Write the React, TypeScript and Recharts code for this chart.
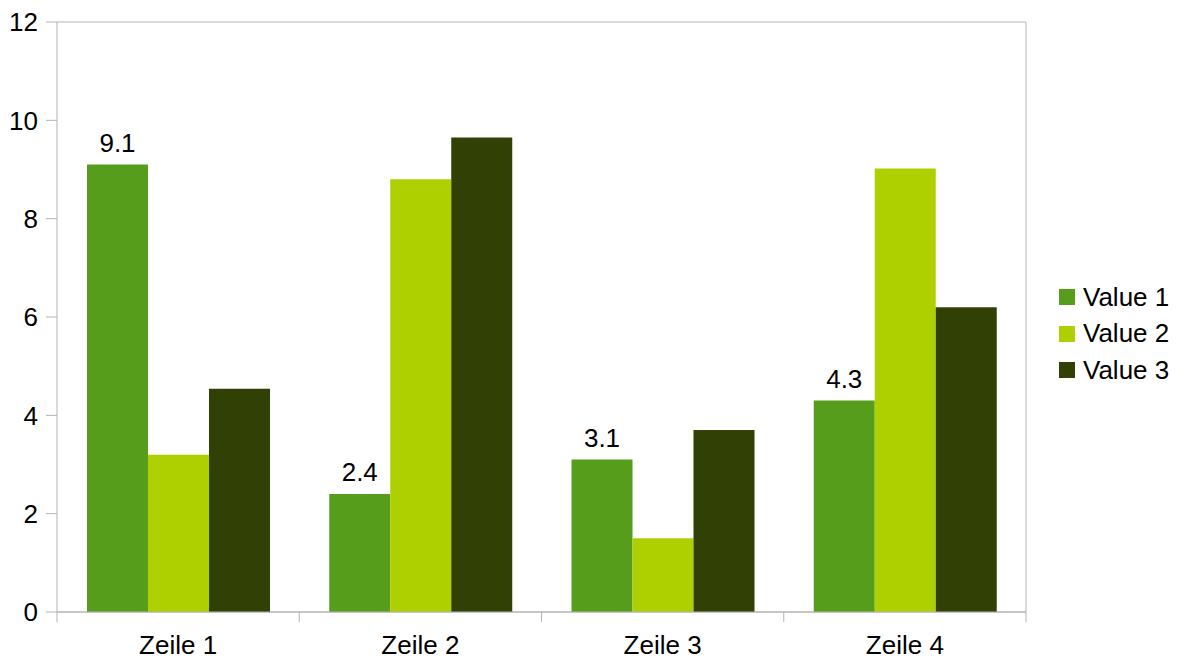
import React from 'react';
import { BarChart, Bar, XAxis, YAxis, CartesianGrid, LabelList } from 'recharts';

const categories = ['Zeile 1', 'Zeile 2', 'Zeile 3', 'Zeile 4'];
const value1 = [9.1, 2.4, 3.1, 4.3];
const value2 = [3.2, 8.8, 1.5, 9.02];
const value3 = [4.54, 9.65, 3.7, 6.2];
const seriesNames = ['Value 1', 'Value 2', 'Value 3'];
const seriesColors = ['#579d1c', '#aecf00', '#314004'];
const yTicks = [0, 2, 4, 6, 8, 10, 12];

const data = categories.map((c, i) => ({ name: c, v1: value1[i], v2: value2[i], v3: value3[i] }));

const FONT = '"Liberation Sans", Arial, sans-serif';
const FS = 26;
const GRID = '#b3b3b3';
const TICK_SIZE = 10;
const TICK_MARGIN = 14;

const CategoryTick = (props: any) => {
  const { x, y, payload, index, visibleTicksCount } = props;
  const half = payload && payload.offset ? payload.offset : 0;
  const axisY = y - TICK_SIZE - TICK_MARGIN;
  const isLast = index === visibleTicksCount - 1;
  return (
    <g>
      <line x1={x - half} x2={x - half} y1={axisY} y2={axisY + TICK_SIZE} stroke={GRID} />
      {isLast && <line x1={x + half} x2={x + half} y1={axisY} y2={axisY + TICK_SIZE} stroke={GRID} />}
      <text x={x} y={y} dy="0.71em" textAnchor="middle" fill="#000" fontSize={FS} fontFamily={FONT}>
        {payload.value}
      </text>
    </g>
  );
};

const LegendBox = () => (
  <div style={{ position: 'absolute', left: 1059, top: 279, fontFamily: FONT, fontSize: FS, color: '#000' }}>
    {seriesNames.map((n, i) => (
      <div key={n} style={{ display: 'flex', alignItems: 'center', height: 36.5, whiteSpace: 'nowrap' }}>
        <span style={{ display: 'inline-block', width: 16, height: 16, background: seriesColors[i], marginRight: 8 }} />
        <span>{n}</span>
      </div>
    ))}
  </div>
);

export default function App() {
  return (
    <div style={{ position: 'absolute', left: 0, top: 0, width: 1183, height: 660, background: '#fff' }}>
      <BarChart
        width={1183}
        height={660}
        data={data}
        margin={{ top: 22, right: 0, bottom: 0, left: 0 }}
        barCategoryGap={30}
        barGap={0}
      >
        <CartesianGrid vertical={false} stroke={GRID} strokeWidth={1} />
        <XAxis
          dataKey="name"
          height={48}
          tickLine={false}
          axisLine={{ stroke: GRID }}
          tickSize={TICK_SIZE}
          tickMargin={TICK_MARGIN}
          interval={0}
          tick={<CategoryTick />}
        />
        <YAxis
          yAxisId="l"
          width={57}
          domain={[0, 12]}
          ticks={yTicks}
          tickSize={11}
          tickMargin={8}
          axisLine={{ stroke: GRID }}
          tickLine={{ stroke: GRID }}
          tick={{ fill: '#000', fontSize: FS, fontFamily: FONT }}
        />
        <YAxis
          yAxisId="r"
          orientation="right"
          width={157}
          domain={[0, 12]}
          tick={false}
          tickLine={false}
          axisLine={{ stroke: GRID }}
        />
        <Bar yAxisId="l" dataKey="v1" name={seriesNames[0]} fill={seriesColors[0]} isAnimationActive={false}>
          <LabelList dataKey="v1" position="top" offset={13} fill="#000" fontSize={FS} fontFamily={FONT} />
        </Bar>
        <Bar yAxisId="l" dataKey="v2" name={seriesNames[1]} fill={seriesColors[1]} isAnimationActive={false} />
        <Bar yAxisId="l" dataKey="v3" name={seriesNames[2]} fill={seriesColors[2]} isAnimationActive={false} />
      </BarChart>
      <LegendBox />
    </div>
  );
}
